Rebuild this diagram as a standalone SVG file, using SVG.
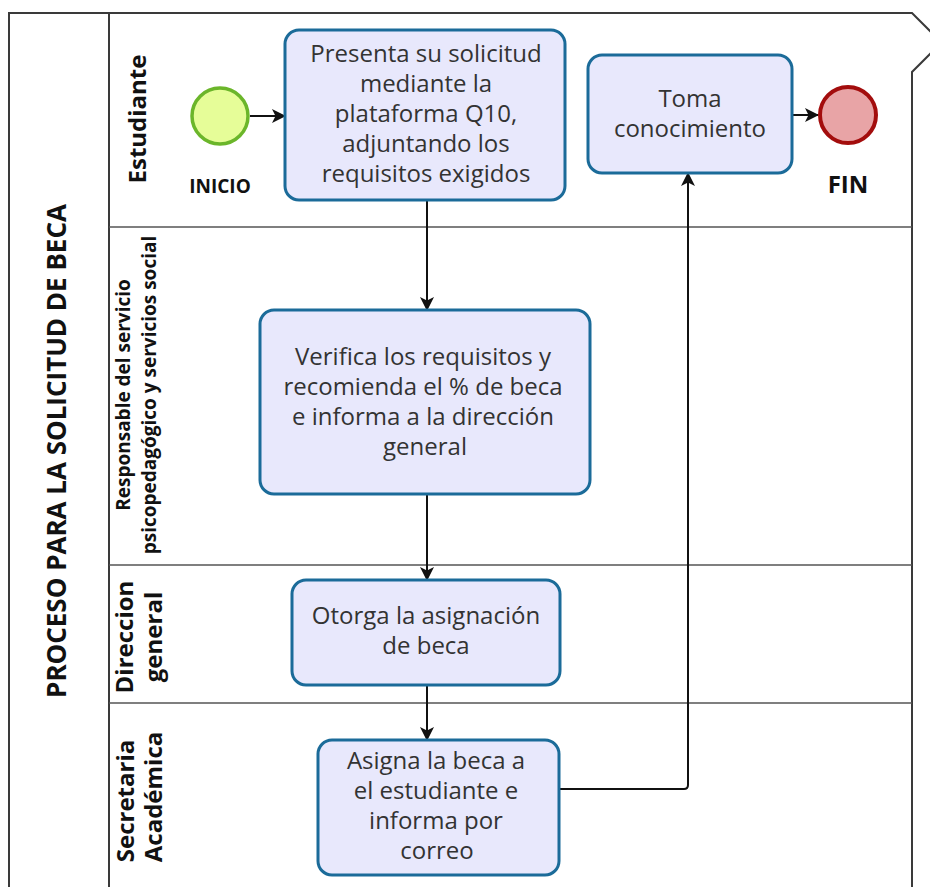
<svg xmlns="http://www.w3.org/2000/svg" width="930" height="887" viewBox="0 0 930 887">
<style>
.pool{fill:none;stroke:#3a3a3a;stroke-width:2}
.lane{fill:none;stroke:#555;stroke-width:1.5}
.task{fill:#e8e8fc;stroke:#1b6b99;stroke-width:3}
.tt{font-family:"Open Sans","Noto Sans",sans-serif;font-size:24px;fill:#333;text-anchor:middle}
.lbl{font-family:"Open Sans","Noto Sans",sans-serif;font-weight:bold;fill:#111;text-anchor:middle}
.flow{fill:none;stroke:#111;stroke-width:2}
</style>
<defs>
<marker id="arr" viewBox="0 0 14 14" refX="13" refY="7" markerWidth="14" markerHeight="14" markerUnits="userSpaceOnUse" orient="auto">
<path d="M0,0 L14,7 L0,14 L3.5,7 Z" fill="#111"/>
</marker>
</defs>
<rect width="930" height="887" fill="#fff"/>
<g id="pool">
<path class="pool" d="M9,887 V13 H912 L932,33"/>
<path class="pool" d="M932,52 L912,72 V887"/>
<line class="pool" x1="109" y1="13" x2="109" y2="887"/>
<line class="lane" x1="109" y1="227" x2="912" y2="227"/>
<line class="lane" x1="109" y1="565" x2="912" y2="565"/>
<line class="lane" x1="109" y1="703" x2="912" y2="703"/>
<text class="lbl" font-size="26" transform="translate(66,451) rotate(-90)">PROCESO PARA LA SOLICITUD DE BECA</text>
<text class="lbl" font-size="24" transform="translate(146,119) rotate(-90)">Estudiante</text>
<text class="lbl" font-size="19" transform="translate(130,395) rotate(-90)">Responsable del servicio</text>
<text class="lbl" font-size="19" transform="translate(156,395) rotate(-90)">psicopedagógico y servicios social</text>
<text class="lbl" font-size="24" transform="translate(133,637) rotate(-90)">Direccion</text>
<text class="lbl" font-size="24" transform="translate(162,637) rotate(-90)">general</text>
<text class="lbl" font-size="24" transform="translate(134,801) rotate(-90)">Secretaria</text>
<text class="lbl" font-size="24" transform="translate(162,797) rotate(-90)">Académica</text>
</g>
<g id="connectors">
<line class="flow" x1="250" y1="116" x2="285" y2="116" marker-end="url(#arr)"/>
<line class="flow" x1="792" y1="115" x2="818" y2="115" marker-end="url(#arr)"/>
<line class="flow" x1="427" y1="200" x2="427" y2="310" marker-end="url(#arr)"/>
<line class="flow" x1="427" y1="494" x2="427" y2="580" marker-end="url(#arr)"/>
<line class="flow" x1="427" y1="685" x2="427" y2="740" marker-end="url(#arr)"/>
<path class="flow" d="M559,789 H684 Q688,789 688,785 V173" marker-end="url(#arr)"/>
</g>
<g id="inicio">
<circle cx="220" cy="116" r="28" fill="#e6fd98" stroke="#6bb62a" stroke-width="3.5"/>
<text class="lbl" font-size="19" x="220" y="193">INICIO</text>
</g>
<g id="fin">
<circle cx="848" cy="115" r="28" fill="#e8a4a6" stroke="#a30d0d" stroke-width="4"/>
<text class="lbl" font-size="24" x="848" y="193">FIN</text>
</g>
<g id="t1">
<rect class="task" x="285" y="30" width="280" height="170" rx="14"/>
<text class="tt" x="426" y="62">Presenta su solicitud</text>
<text class="tt" x="426" y="92">mediante la</text>
<text class="tt" x="426" y="122">plataforma Q10,</text>
<text class="tt" x="426" y="152">adjuntando los</text>
<text class="tt" x="426" y="182">requisitos exigidos</text>
</g>
<g id="t2">
<rect class="task" x="588" y="55" width="204" height="118" rx="14"/>
<text class="tt" x="690" y="107">Toma</text>
<text class="tt" x="690" y="137">conocimiento</text>
</g>
<g id="t3">
<rect class="task" x="260" y="310" width="330" height="184" rx="14"/>
<text class="tt" x="423" y="365">Verifica los requisitos y</text>
<text class="tt" x="423" y="395">recomienda el % de beca</text>
<text class="tt" x="423" y="425">e informa a la dirección</text>
<text class="tt" x="425" y="455">general</text>
</g>
<g id="t4">
<rect class="task" x="292" y="580" width="268" height="105" rx="14"/>
<text class="tt" x="426" y="624">Otorga la asignación</text>
<text class="tt" x="426" y="654">de beca</text>
</g>
<g id="t5">
<rect class="task" x="318" y="740" width="241" height="135" rx="14"/>
<text class="tt" x="436" y="769">Asigna la beca a</text>
<text class="tt" x="436" y="799">el estudiante e</text>
<text class="tt" x="436" y="829">informa por</text>
<text class="tt" x="437" y="859">correo</text>
</g>
</svg>
